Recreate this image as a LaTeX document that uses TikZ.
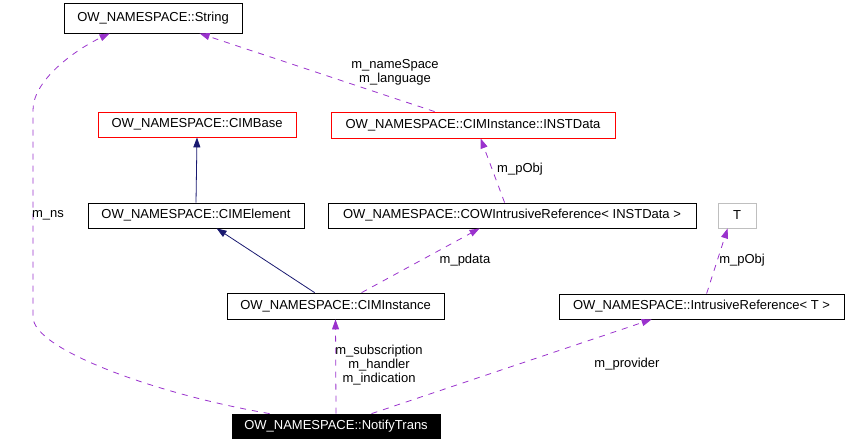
\documentclass[tikz,border=0pt]{standalone}
\usepackage{fontspec}
\setmainfont{Liberation Sans}
\usetikzlibrary{arrows.meta,calc}
\begin{document}
\begin{tikzpicture}[x=1pt,y=-1pt,
    font=\fontsize{13}{14}\selectfont,
    classbox/.style={draw=black, line width=0.8pt, inner sep=0pt, fill=white},
    usedby/.style={draw=usecolor, line width=0.8pt, dash pattern=on 6pt off 6pt, -{Triangle[length=10pt,width=7pt]}},
    inherits/.style={draw=inhcolor, line width=0.8pt, -{Triangle[length=10pt,width=7pt]}},
    edgelabel/.style={inner sep=0pt, align=center}]
    % Define the colors
    \definecolor{usecolor}{RGB}{154, 50, 205}
    \definecolor{inhcolor}{RGB}{25, 25, 112}
    \definecolor{tmplcolor}{RGB}{191, 191, 191}

    \useasboundingbox (0,0) rectangle (851,445);

    % Draw the classes
    \node[classbox, minimum width=178pt, minimum height=30pt] (str) at (153,18) {OW\_NAMESPACE::String};
    \node[classbox, draw=red, minimum width=198pt, minimum height=25pt] (base) at (197,124.5) {OW\_NAMESPACE::CIMBase};
    \node[classbox, draw=red, minimum width=284pt, minimum height=26pt] (instdata) at (473,125) {OW\_NAMESPACE::CIMInstance::INSTData};
    \node[classbox, minimum width=216pt, minimum height=25pt] (elem) at (196,215.5) {OW\_NAMESPACE::CIMElement};
    \node[classbox, minimum width=368pt, minimum height=25pt] (cow) at (512,215.5) {OW\_NAMESPACE::COWIntrusiveReference< INSTData >};
    \node[classbox, draw=tmplcolor, minimum width=38pt, minimum height=25pt] (T) at (737,215.5) {T};
    \node[classbox, minimum width=217pt, minimum height=26pt] (cinst) at (335.5,306) {OW\_NAMESPACE::CIMInstance};
    \node[classbox, minimum width=285pt, minimum height=25pt] (intref) at (701.5,306.5) {OW\_NAMESPACE::IntrusiveReference< T >};
    \node[classbox, fill=black, text=white, minimum width=208pt, minimum height=24pt] (notify) at (336,426) {OW\_NAMESPACE::NotifyTrans};

    % Draw the inheritance
    \draw[inherits] (elem.north) -- (base.south);
    \draw[inherits] ($(cinst.north west)+(88,0)$) -- ($(elem.south west)+(129,0)$);

    % Draw the usage
    \draw[usedby] ($(cinst.north west)+(135,0)$) -- ($(cow.south west)+(152,0)$);
    \draw[usedby] ($(cow.north west)+(177,0)$) -- ($(instdata.south west)+(150,0)$);
    \draw[usedby] ($(instdata.north west)+(104,0)$) -- ($(str.south west)+(136,0)$);
    \draw[usedby] ($(notify.north west)+(38,0)$) .. controls (160,395) and (33,350) .. (33,317)
        -- (33,110) .. controls (33,80) and (75,50) .. ($(str.south west)+(46,0)$);
    \draw[usedby] (notify.north) -- (cinst.south);
    \draw[usedby] ($(notify.north west)+(140,0)$) -- ($(intref.south west)+(93,0)$);
    \draw[usedby] ($(intref.north west)+(148,0)$) -- ($(T.south west)+(10,0)$);

    % Draw the labels
    \node[edgelabel] (lblns) at (48,215) {m\_ns};
    \node[edgelabel] (lblnamespace) at (395,72) {m\_nameSpace\\m\_language};
    \node[edgelabel] (lblpobja) at (520,169) {m\_pObj};
    \node[edgelabel] (lblpdata) at (465,260) {m\_pdata};
    \node[edgelabel] (lblsub) at (379,365) {m\_subscription\\m\_handler\\m\_indication};
    \node[edgelabel] (lblprovider) at (627,364) {m\_provider};
    \node[edgelabel] (lblpobjb) at (742,260) {m\_pObj};

\end{tikzpicture}
\end{document}
